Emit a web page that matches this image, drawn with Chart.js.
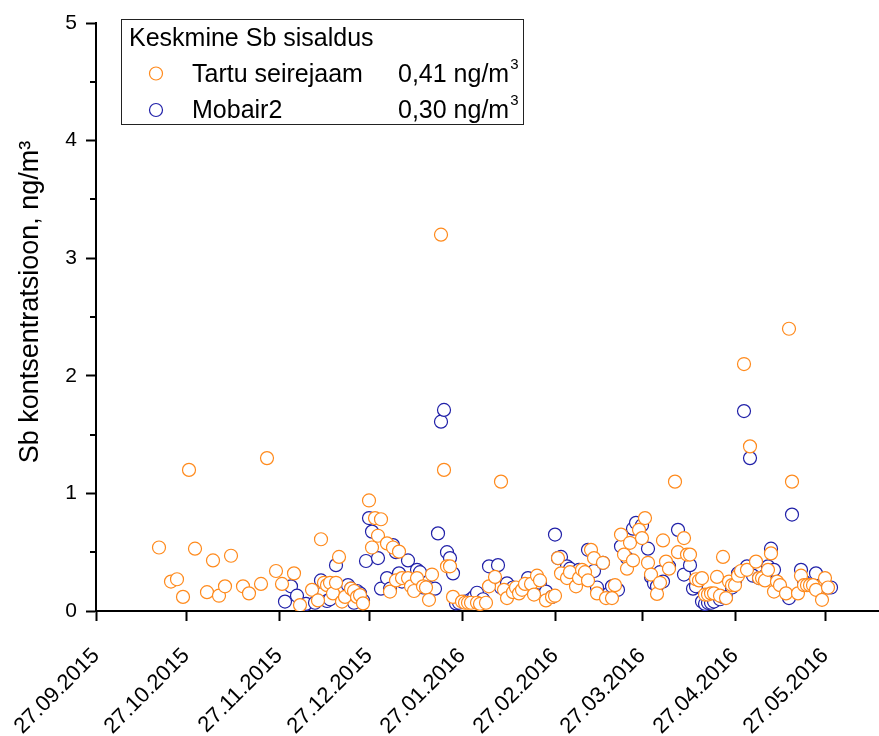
<!DOCTYPE html>
<html>
<head>
<meta charset="utf-8">
<script src="https://cdn.jsdelivr.net/npm/chart.js@4.4.1/dist/chart.umd.min.js"></script>
<style>
  html, body { margin: 0; padding: 0; background: #fff; }
  #wrap { width: 879px; height: 736px; }
</style>
</head>
<body>
<div id="wrap"><canvas id="sbChart" width="879" height="736"></canvas></div>
<script>
// Axis tick labels (monthly)
var tickLabels = ['27.09.2015', '27.10.2015', '27.11.2015', '27.12.2015', '27.01.2016',
  '27.02.2016', '27.03.2016', '27.04.2016', '27.05.2016'];

// Tartu seirejaam
var tartuDates = [
  '18.10.2015','22.10.2015','24.10.2015','26.10.2015','28.10.2015','30.10.2015',
  '03.11.2015','05.11.2015','07.11.2015','09.11.2015','11.11.2015','15.11.2015','17.11.2015',
  '21.11.2015','23.11.2015','26.11.2015','28.11.2015',
  '02.12.2015','04.12.2015','08.12.2015','10.12.2015','11.12.2015','12.12.2015','13.12.2015',
  '14.12.2015','15.12.2015','16.12.2015','17.12.2015','18.12.2015','19.12.2015','21.12.2015',
  '22.12.2015','23.12.2015','24.12.2015','25.12.2015','27.12.2015','28.12.2015','29.12.2015',
  '30.12.2015','31.12.2015',
  '02.01.2016','03.01.2016','04.01.2016','05.01.2016','06.01.2016','07.01.2016','09.01.2016',
  '10.01.2016','11.01.2016','12.01.2016','14.01.2016','15.01.2016','16.01.2016','17.01.2016',
  '20.01.2016','21.01.2016','22.01.2016','23.01.2016','24.01.2016','27.01.2016','28.01.2016',
  '29.01.2016','30.01.2016',
  '01.02.2016','02.02.2016','04.02.2016','05.02.2016','07.02.2016','09.02.2016','10.02.2016',
  '11.02.2016','13.02.2016','14.02.2016','15.02.2016','16.02.2016','17.02.2016','19.02.2016',
  '20.02.2016','21.02.2016','22.02.2016','24.02.2016','26.02.2016','27.02.2016','28.02.2016',
  '29.02.2016',
  '02.03.2016','03.03.2016','05.03.2016','06.03.2016','07.03.2016','08.03.2016','09.03.2016',
  '10.03.2016','11.03.2016','12.03.2016','14.03.2016','15.03.2016','17.03.2016','18.03.2016',
  '20.03.2016','21.03.2016','22.03.2016','23.03.2016','24.03.2016','26.03.2016','27.03.2016',
  '28.03.2016','29.03.2016','30.03.2016',
  '01.04.2016','02.04.2016','03.04.2016','04.04.2016','05.04.2016','07.04.2016','08.04.2016',
  '10.04.2016','11.04.2016','12.04.2016','14.04.2016','15.04.2016','16.04.2016','17.04.2016',
  '18.04.2016','19.04.2016','20.04.2016','21.04.2016','22.04.2016','23.04.2016','24.04.2016',
  '25.04.2016','26.04.2016','27.04.2016','28.04.2016','29.04.2016','30.04.2016',
  '01.05.2016','02.05.2016','04.05.2016','05.05.2016','06.05.2016','07.05.2016','08.05.2016',
  '09.05.2016','10.05.2016','11.05.2016','12.05.2016','14.05.2016','15.05.2016','16.05.2016',
  '18.05.2016','19.05.2016','20.05.2016','21.05.2016','22.05.2016','23.05.2016','24.05.2016',
  '26.05.2016','27.05.2016','28.05.2016'
];
var tartuValues = [
  0.54, 0.25, 0.27, 0.12, 1.20, 0.53,
  0.16, 0.43, 0.13, 0.21, 0.47, 0.21, 0.15,
  0.23, 1.30, 0.34, 0.23,
  0.32, 0.05, 0.18, 0.09, 0.61, 0.24, 0.22,
  0.24, 0.15, 0.24, 0.46, 0.08, 0.12, 0.19,
  0.17, 0.12, 0.135, 0.065, 0.94, 0.54, 0.79,
  0.64, 0.78,
  0.575, 0.165, 0.54, 0.26, 0.505, 0.28, 0.28,
  0.21, 0.17, 0.28, 0.21, 0.20, 0.095, 0.31,
  3.20, 1.20, 0.38, 0.38, 0.12, 0.08, 0.07,
  0.07, 0.07,
  0.07, 0.06, 0.07, 0.21, 0.29, 1.10, 0.18,
  0.11, 0.16, 0.20, 0.15, 0.18, 0.23, 0.23,
  0.14, 0.30, 0.26, 0.09, 0.12, 0.13, 0.45,
  0.32,
  0.28, 0.33, 0.21, 0.28, 0.35, 0.33, 0.26,
  0.52, 0.45, 0.15, 0.41, 0.11, 0.11, 0.22,
  0.65, 0.48, 0.36, 0.58, 0.43, 0.69, 0.62,
  0.79, 0.41, 0.31,
  0.145, 0.24, 0.60, 0.42, 0.36, 1.10, 0.50,
  0.62, 0.48, 0.48, 0.27, 0.26, 0.28, 0.14,
  0.14, 0.15, 0.15, 0.29, 0.13, 0.46, 0.11,
  0.25, 0.22, 0.22, 0.30, 0.34, 2.10,
  0.35, 1.40, 0.42, 0.28, 0.28, 0.26, 0.35,
  0.49, 0.165, 0.25, 0.22, 0.15, 2.40, 1.10,
  0.15, 0.30, 0.22, 0.22, 0.22, 0.22, 0.18,
  0.095, 0.28, 0.20
];

// Mobair2
var mobairDates = [
  '29.11.2015',
  '01.12.2015','03.12.2015','06.12.2015','09.12.2015','11.12.2015','12.12.2015','13.12.2015',
  '14.12.2015','16.12.2015','18.12.2015','20.12.2015','21.12.2015','22.12.2015','23.12.2015',
  '24.12.2015','25.12.2015','26.12.2015','27.12.2015','28.12.2015','30.12.2015','31.12.2015',
  '02.01.2016','03.01.2016','04.01.2016','05.01.2016','06.01.2016','07.01.2016','09.01.2016',
  '10.01.2016','12.01.2016','13.01.2016','14.01.2016','15.01.2016','16.01.2016','18.01.2016',
  '19.01.2016','20.01.2016','21.01.2016','22.01.2016','23.01.2016','24.01.2016','25.01.2016',
  '26.01.2016','28.01.2016','30.01.2016','31.01.2016',
  '01.02.2016','03.02.2016','05.02.2016','08.02.2016','09.02.2016','11.02.2016','13.02.2016',
  '15.02.2016','18.02.2016','20.02.2016','22.02.2016','24.02.2016','26.02.2016','27.02.2016',
  '28.02.2016','29.02.2016',
  '02.03.2016','03.03.2016','06.03.2016','08.03.2016','09.03.2016','11.03.2016','12.03.2016',
  '14.03.2016','16.03.2016','17.03.2016','19.03.2016','20.03.2016','22.03.2016','24.03.2016',
  '25.03.2016','27.03.2016','29.03.2016','30.03.2016','31.03.2016',
  '01.04.2016','02.04.2016','03.04.2016','05.04.2016','08.04.2016','10.04.2016','12.04.2016',
  '13.04.2016','14.04.2016','16.04.2016','17.04.2016','18.04.2016','19.04.2016','20.04.2016',
  '22.04.2016','23.04.2016','24.04.2016','26.04.2016','27.04.2016','28.04.2016','30.04.2016',
  '01.05.2016','02.05.2016','03.05.2016','05.05.2016','07.05.2016','08.05.2016','09.05.2016',
  '10.05.2016','12.05.2016','15.05.2016','16.05.2016','19.05.2016','20.05.2016','22.05.2016',
  '24.05.2016','26.05.2016','28.05.2016','29.05.2016'
];
var mobairValues = [
  0.08,
  0.21, 0.13, 0.06, 0.07, 0.26, 0.16, 0.085,
  0.10, 0.39, 0.09, 0.22, 0.19, 0.07, 0.17,
  0.15, 0.09, 0.425, 0.79, 0.675, 0.45, 0.19,
  0.28, 0.19, 0.56, 0.50, 0.32, 0.25, 0.43,
  0.25, 0.35, 0.33, 0.20, 0.20, 0.20, 0.19,
  0.66, 1.61, 1.71, 0.50, 0.45, 0.32, 0.065,
  0.07, 0.08, 0.10, 0.12,
  0.155, 0.10, 0.38, 0.39, 0.20, 0.235, 0.20,
  0.18, 0.28, 0.22, 0.24, 0.165, 0.12, 0.65,
  0.45, 0.46,
  0.38, 0.36, 0.35, 0.30, 0.52, 0.34, 0.20,
  0.41, 0.15, 0.21, 0.18, 0.55, 0.45, 0.70,
  0.75, 0.73, 0.53, 0.29, 0.235,
  0.21, 0.33, 0.25, 0.38, 0.69, 0.31, 0.39,
  0.19, 0.21, 0.08, 0.06, 0.07, 0.07, 0.08,
  0.10, 0.12, 0.12, 0.20, 0.25, 0.32, 1.70,
  0.38, 1.30, 0.30, 0.28, 0.30, 0.38, 0.53,
  0.35, 0.20, 0.11, 0.82, 0.35, 0.25, 0.22,
  0.32, 0.22, 0.20, 0.20
];

var seriesNames = ['Tartu seirejaam', 'Mobair2'];
var seriesColors = ['#ff8a1c', '#2020a8'];
var seriesMeans = ['0,41', '0,30'];
var legendTitle = 'Keskmine Sb sisaldus';
// leading no-break spaces nudge the title up a little, as in the original
var yTitle = '\u00a0\u00a0\u00a0\u00a0Sb kontsentratsioon, ng/m\u00b3';

var FONT = '"Liberation Sans", Arial, sans-serif';
var DAY = 86400000;

function toTime(s) {
  var p = s.split('.');
  return Date.UTC(+p[2], +p[1] - 1, +p[0]);
}

function toPoints(dates, values) {
  return dates.map(function (d, i) {
    return { x: toTime(d), y: values[i] };
  });
}

var xMin = toTime(tickLabels[0]);
var xMax = xMin + 261 * DAY;

// minor ticks on the y axis (every 0.5)
var minorTicks = {
  id: 'minorTicks',
  afterDraw: function (chart) {
    var ys = chart.scales.y, ctx = chart.ctx;
    ctx.save();
    ctx.strokeStyle = '#000';
    ctx.lineWidth = 2;
    for (var v = 0.5; v < 5; v += 1) {
      var py = Math.round(ys.getPixelForValue(v));
      ctx.beginPath();
      ctx.moveTo(ys.right - 6, py);
      ctx.lineTo(ys.right, py);
      ctx.stroke();
    }
    ctx.restore();
  }
};

// boxed legend with title and mean values
var legendBox = {
  id: 'legendBox',
  afterDraw: function (chart) {
    var ctx = chart.ctx;
    ctx.save();
    ctx.fillStyle = '#fff';
    ctx.fillRect(121.5, 19.5, 402, 105);
    ctx.strokeStyle = '#222';
    ctx.lineWidth = 1;
    ctx.strokeRect(121.5, 19.5, 402, 105);

    ctx.fillStyle = '#000';
    ctx.textBaseline = 'alphabetic';
    ctx.textAlign = 'left';
    ctx.font = '25px ' + FONT;
    ctx.fillText(legendTitle, 129, 46);

    chart.data.datasets.forEach(function (ds, i) {
      var cy = 73.5 + i * 36.5;
      ctx.beginPath();
      ctx.arc(156, cy, 6.5, 0, 2 * Math.PI);
      ctx.fillStyle = '#fff';
      ctx.fill();
      ctx.strokeStyle = ds.borderColor;
      ctx.lineWidth = ds.pointBorderWidth;
      ctx.stroke();

      ctx.fillStyle = '#000';
      ctx.font = '25px ' + FONT;
      ctx.fillText(ds.label, 192, cy + 8);
      var txt = seriesMeans[i] + ' ng/m';
      ctx.fillText(txt, 398, cy + 8);
      var w = ctx.measureText(txt).width;
      ctx.font = '15px ' + FONT;
      ctx.fillText('3', 398 + w + 1, cy - 5);
    });
    ctx.restore();
  }
};

var ctx = document.getElementById('sbChart').getContext('2d');

var sbChart = new Chart(ctx, {
  type: 'scatter',
  data: {
    datasets: [
      {
        label: seriesNames[0],
        data: toPoints(tartuDates, tartuValues),
        borderColor: seriesColors[0],
        backgroundColor: '#fff',
        pointRadius: 6.5,
        pointHoverRadius: 6.5,
        pointBorderWidth: 1.2
      },
      {
        label: seriesNames[1],
        data: toPoints(mobairDates, mobairValues),
        borderColor: seriesColors[1],
        backgroundColor: '#fff',
        pointRadius: 6.5,
        pointHoverRadius: 6.5,
        pointBorderWidth: 1.2
      }
    ]
  },
  options: {
    responsive: false,
    animation: false,
    layout: { autoPadding: false, padding: { left: 14, top: 23, right: 0, bottom: 0 } },
    plugins: {
      legend: { display: false },
      tooltip: { enabled: false }
    },
    scales: {
      x: {
        type: 'linear',
        min: xMin,
        max: xMax,
        afterBuildTicks: function (scale) {
          scale.ticks = tickLabels.map(function (t) { return { value: toTime(t) }; });
        },
        afterFit: function (scale) {
          scale.height = 125;
          scale.paddingLeft = 0;
          scale.paddingRight = 0;
        },
        border: { color: '#000', width: 2 },
        grid: { drawOnChartArea: false, tickLength: 10, tickWidth: 2, tickColor: '#000' },
        ticks: {
          autoSkip: false,
          minRotation: 45,
          maxRotation: 45,
          padding: 22,
          color: '#000',
          font: { family: FONT, size: 22 },
          callback: function (value, index) { return tickLabels[index]; }
        }
      },
      y: {
        min: 0,
        max: 5,
        afterFit: function (scale) {
          scale.width = 82;
          scale.paddingTop = 0;
          scale.paddingBottom = 0;
        },
        border: { color: '#000', width: 2 },
        grid: { drawOnChartArea: false, tickLength: 10, tickWidth: 2, tickColor: '#000' },
        ticks: {
          stepSize: 1,
          padding: 9,
          color: '#000',
          font: { family: FONT, size: 21 }
        },
        title: {
          display: true,
          text: yTitle,
          color: '#000',
          padding: { top: 0, bottom: 0 },
          font: { family: FONT, size: 27 }
        }
      }
    }
  },
  plugins: [minorTicks, legendBox]
});
</script>
</body>
</html>
